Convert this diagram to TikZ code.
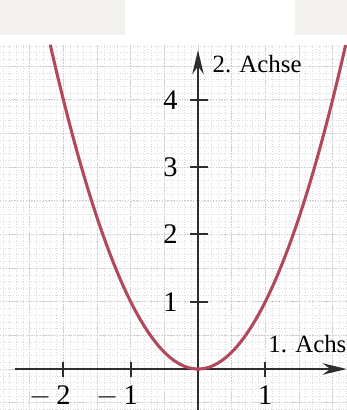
\documentclass[tikz,border=0pt]{standalone}
\usepackage{fontspec}
\setmainfont{Liberation Serif}
\usetikzlibrary{arrows.meta}

\definecolor{parabel}{RGB}{178,72,92}
\definecolor{achse}{RGB}{45,45,45}
\definecolor{raster}{RGB}{195,195,195}
\definecolor{papier}{RGB}{243,241,237}

\begin{document}
\begin{tikzpicture}[
    font=\large,
    axis/.style={draw=achse, line width=0.9pt, -{Stealth[length=3.6mm, width=1.7mm]}},
    tick/.style={draw=achse, line width=0.9pt},
    finegrid/.style={draw=raster!55, line width=0.2pt, dash pattern=on 0.4pt off 0.7pt},
    coarsegrid/.style={draw=raster!85, line width=0.3pt, dash pattern=on 0.6pt off 0.6pt},
    curve/.style={draw=parabel, line width=1.3pt},
    achsname/.style={anchor=base west, inner sep=0pt, font=\fontsize{10.5}{12}\selectfont}
]
\useasboundingbox (-2.942,-0.609) rectangle (2.214,5.483);
% paper patches at the top
\fill[papier] (-2.942,4.96) rectangle (-1.08,5.483);
\fill[papier] (1.44,4.96) rectangle (2.214,5.483);
% grid paper
\draw[finegrid] (-2.942,-0.609) grid[step=0.1] (2.214,4.82);
\draw[coarsegrid] (-2.942,-0.609) grid[step=0.5] (2.214,4.82);

\coordinate (ursprung) at (0,0);
\coordinate (xstart) at (-2.72,0);
\coordinate (xend) at (2.21,0);
\coordinate (ystart) at (0,-0.609);
\coordinate (yend) at (0,4.74);

% axes
\draw[axis] (xstart) -- (xend);
\draw[axis] (ystart) -- (yend);

% ticks
\foreach \k in {-2,-1,1} {
    \draw[tick] (\k,-0.12) -- (\k,0.1);
}
\node[anchor=north, inner sep=2pt] (xm2) at (-2,-0.17) {\llap{$-$\,}2};
\node[anchor=north, inner sep=2pt] (xm1) at (-1,-0.17) {\llap{$-$\,}1};
\node[anchor=north, inner sep=2pt] (xp1) at (1,-0.17) {1};
\foreach \k in {1,2,3,4} {
    \draw[tick] (-0.12,\k) -- (0.15,\k);
    \node[anchor=east] (y\k) at (-0.18,\k) {\k};
}

% labels of the axes
\node[achsname] (achse2) at (0.21,4.41) {2. Achse};
\node[achsname] (achse1) at (1.04,0.24) {1. Achse};

% parabola
\draw[curve] plot[domain=-2.195:2.195, samples=80, smooth] (\x,{\x*\x});
\end{tikzpicture}
\end{document}
